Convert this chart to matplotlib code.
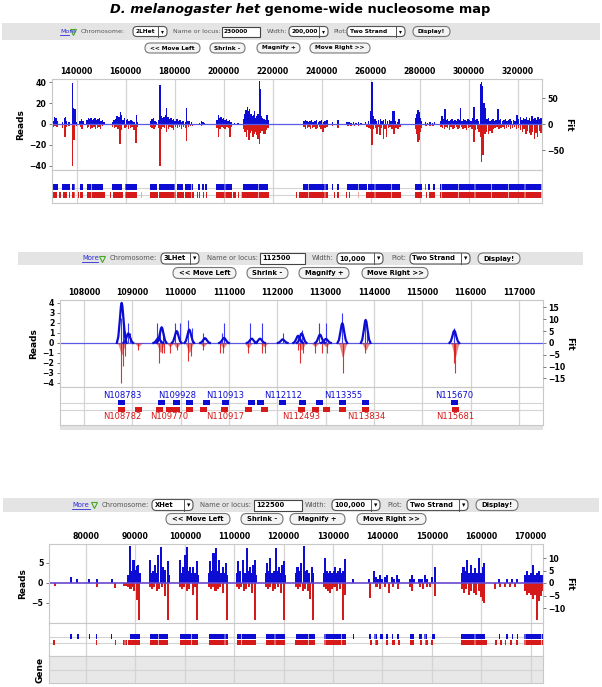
import matplotlib
matplotlib.use('Agg')
import matplotlib.pyplot as plt
from matplotlib.patches import Rectangle, FancyBboxPatch
import numpy as np

W, H = 602, 687
BLUE = '#0c0cd2'
RED = '#d61a1a'
GRID = '#d4d4d4'
SPINE = '#c8c8c8'

plt.rcParams['font.family'] = ['DejaVu Sans']
plt.rcParams['hatch.linewidth'] = 0.45

title_a = 'D. melanogaster het'
title_b = ' genome-wide nucleosome map'

chroms = ['2LHet', '3LHet', 'XHet']
loci = ['230000', '112500', '122500']
widths = ['200,000', '10,000', '100,000']
plot_mode = 'Two Strand'
nav_buttons = ['<< Move Left', 'Shrink -', 'Magnify +', 'Move Right >>']

# ---------------- panel 1 : 2LHet, x in kb ----------------
p1_ticks = [140, 160, 180, 200, 220, 240, 260, 280, 300, 320]
p1_blue_kb = [130.5, 131.0, 131.6, 132.2, 134.2, 135.0, 135.5, 136.0, 137.0, 138.3, 138.8, 139.3, 140.0,
              141.5, 142.0, 142.6, 144.3, 144.8, 145.4, 146.0, 146.5, 147.0, 147.6, 148.2, 148.8, 149.4,
              150.0, 150.6, 151.2, 154.6, 155.3, 156.0, 156.6, 157.3, 157.9, 158.4, 159.0, 159.7, 160.3,
              160.9, 161.5, 162.2, 162.8, 163.4, 164.4, 165.0, 170.3, 170.8, 171.4, 172.0, 172.6, 173.5,
              174.1, 174.6, 175.2, 175.8, 176.3, 176.8, 177.3, 177.9, 178.5, 179.0, 179.6, 180.2, 181.0,
              181.5, 182.2, 182.9, 183.5, 184.4, 185.0, 185.5, 186.2, 187.0, 190.3, 191.0, 191.6, 192.3,
              197.3, 197.9, 198.4, 198.9, 199.4, 200.0, 200.6, 201.2, 201.8, 202.4, 203.0, 204.5, 206.0,
              208.2, 208.7, 209.2, 209.7, 210.2, 210.7, 211.2, 211.7, 212.2, 212.7, 213.2, 213.7, 214.1,
              214.6, 215.0, 215.5, 216.0, 216.6, 217.2, 217.8, 218.3,
              232.8, 233.4, 234.0, 234.6, 235.3, 236.0, 236.6, 237.3, 238.0, 238.7, 239.4, 240.1, 240.8,
              241.5, 242.2, 244.5, 246.8, 250.5, 251.2, 252.0, 253.0, 254.0, 255.0, 256.2, 258.0, 259.2,
              260.2, 260.7, 261.2, 261.8, 262.5, 263.2, 264.0, 264.7, 265.4, 266.2, 267.0, 267.7, 268.4,
              269.2, 269.6, 270.3, 271.0, 271.7, 278.3, 278.8, 279.3, 279.8, 280.3, 280.8, 282.5, 283.3,
              284.3, 285.3, 286.2, 288.6, 289.2, 289.8, 290.4, 290.9, 291.5, 292.1, 292.7, 293.3, 293.9,
              294.5, 295.1, 295.7, 296.3, 296.8, 297.4, 298.0, 298.6, 299.2, 299.8, 300.4, 301.0, 301.6,
              302.3, 302.9, 303.5, 304.1, 304.8, 305.3, 305.8, 306.3, 306.9, 307.5, 308.2, 308.8, 309.4,
              310.0, 310.7, 311.3, 312.0, 312.5, 313.1, 313.8, 314.4, 315.0, 315.7, 316.3, 317.0, 317.6,
              318.3, 318.9, 319.7, 320.3, 321.2, 321.8, 322.4, 323.0, 323.6, 324.2, 324.8, 325.4, 326.0,
              326.6, 327.2, 327.8, 328.4, 329.0, 329.6]
p1_blue_reads = [3, 7, 6, 3, 2, 6, 7, 3, 2, 39, 15, 14, 2,
                 3, 5, 3, 4, 6, 5, 6, 4, 5, 6, 4, 5, 6,
                 3, 4, 2, 2, 4, 5, 8, 7, 11, 9, 4, 6, 4,
                 5, 3, 4, 3, 2, 9, 2, 3, 5, 6, 3, 2, 4,
                 37, 8, 6, 7, 9, 15, 7, 5, 6, 4, 5, 3, 5,
                 3, 4, 2, 3, 2, 15, 3, 3, 2, 1, 3, 2, 1,
                 4, 9, 6, 7, 5, 6, 4, 5, 3, 4, 2, 1, 1,
                 5, 10, 13, 16, 12, 14, 10, 8, 9, 12, 6, 8, 10,
                 41, 33, 8, 6, 5, 4, 9, 4,
                 3, 4, 3, 2, 3, 4, 2, 3, 4, 2, 3, 4, 2,
                 3, 4, 2, 4, 2, 2, 1, 2, 1, 2, 1, 2, 3,
                 12, 40, 8, 5, 3, 4, 5, 3, 4, 5, 3, 4, 3,
                 12, 12, 3, 2, 5, 6, 10, 13, 11, 6, 3, 2, 1,
                 2, 1, 2, 3, 8, 5, 14, 4, 5, 3, 4, 5, 3,
                 4, 3, 5, 4, 15, 3, 5, 4, 3, 5, 4, 3, 6,
                 16, 4, 5, 3, 38, 40, 36, 20, 15, 5, 6, 3, 4,
                 5, 3, 4, 14, 4, 5, 3, 4, 5, 3, 4, 5, 3,
                 4, 3, 9, 5, 7, 4, 6, 5, 7, 4, 6, 3, 8,
                 5, 6, 4, 7, 5, 6]
p1_red_kb = [130.5, 131.2, 132.0, 134.3, 135.3, 136.0, 137.0, 138.4, 139.0, 140.0, 141.6, 142.3, 144.4,
             145.0, 145.7, 146.4, 147.1, 147.8, 148.5, 149.2, 149.9, 150.6, 154.8, 155.5, 156.2, 156.9,
             157.7, 158.3, 159.8, 160.5, 161.2, 162.0, 162.7, 163.5, 164.3, 165.0, 170.2, 170.9, 171.6,
             172.3, 173.4, 174.1, 174.7, 175.3, 176.0, 176.8, 177.5, 178.2, 178.9, 179.6, 180.4, 181.3,
             182.1, 182.9, 183.6, 184.4, 185.0, 185.7, 186.5, 187.3, 191.1, 197.3, 197.9, 198.6, 199.3,
             200.0, 200.7, 201.4, 202.0, 202.6, 203.2, 208.2, 208.8, 209.4, 210.0, 210.5, 210.9, 211.4,
             212.0, 212.5, 213.0, 213.6, 214.1, 214.6, 215.1, 215.7, 216.3, 216.9, 217.5, 218.2,
             232.8, 233.5, 234.2, 234.9, 235.6, 236.3, 237.0, 237.7, 238.4, 239.1, 239.8, 240.7, 241.5,
             242.2, 244.5, 246.8, 250.8, 252.0, 253.5, 255.0, 258.5, 259.4, 260.2, 260.7, 261.3, 262.0,
             262.6, 263.2, 263.9, 264.5, 265.2, 265.9, 266.6, 267.3, 268.0, 268.7, 269.6, 270.4, 271.2,
             272.0, 278.3, 278.8, 279.4, 279.9, 280.4, 280.9, 282.7, 284.3, 285.5, 288.7, 289.4, 290.1,
             290.8, 291.5, 292.2, 292.9, 293.6, 294.3, 295.0, 295.7, 296.4, 297.1, 297.8, 298.5, 299.2,
             299.9, 300.6, 301.4, 302.2, 302.9, 303.6, 304.3, 304.9, 305.4, 306.0, 306.7, 307.4, 308.1,
             308.8, 309.5, 310.2, 310.8, 311.6, 312.4, 313.2, 314.0, 314.8, 315.6, 316.4, 317.2, 318.0,
             318.8, 319.6, 320.4, 321.2, 322.0, 322.7, 323.4, 324.1, 324.8, 325.5, 326.2, 326.9, 327.5,
             328.2, 328.9, 329.6]
p1_red_reads = [-3, -2, -3, -4, -12, -3, -2, -40, -15, -2, -3, -5, -4,
                -3, -5, -4, -3, -5, -4, -3, -5, -2, -3, -4, -3, -5,
                -19, -6, -4, -3, -5, -4, -3, -6, -18, -3, -3, -4, -5,
                -3, -4, -40, -5, -3, -4, -8, -5, -3, -4, -6, -3, -4,
                -3, -5, -3, -4, -16, -3, -2, -2, -2, -4, -12, -5, -3,
                -4, -5, -3, -4, -12, -3, -5, -8, -12, -6, -15, -9, -7,
                -12, -10, -8, -11, -14, -19, -9, -7, -10, -10, -6, -4,
                -3, -5, -4, -3, -5, -4, -3, -5, -4, -3, -5, -8, -4,
                -3, -2, -4, -2, -2, -2, -2, -3, -4, -5, -20, -5, -4,
                -10, -3, -11, -4, -14, -5, -12, -4, -3, -5, -10, -4, -5,
                -3, -5, -10, -17, -15, -8, -4, -2, -2, -2, -3, -4, -5,
                -3, -4, -6, -3, -5, -4, -3, -5, -4, -3, -5, -4, -6,
                -4, -3, -5, -17, -6, -5, -8, -12, -36, -30, -10, -8, -10,
                -7, -9, -5, -4, -3, -5, -4, -3, -5, -4, -3, -5, -4,
                -3, -5, -4, -6, -8, -5, -10, -7, -9, -11, -8, -14, -9,
                -12, -7, -9]
p1_blue_nuc = [(130.1, 132.6), (133.9, 137.4), (138.0, 139.4), (141.4, 142.8), (144.2, 151.0),
               (154.4, 158.5), (159.8, 164.8), (170.0, 172.7), (173.7, 180.2), (180.9, 183.6),
               (184.3, 187.7), (189.7, 190.6), (191.3, 192.2), (192.6, 193.1), (197.0, 203.3),
               (208.0, 218.3), (232.6, 242.8), (244.2, 244.8), (246.3, 247.0), (250.3, 258.5),
               (258.9, 272.1), (278.2, 280.9), (282.2, 282.8), (283.5, 284.2), (285.5, 286.3),
               (288.4, 329.9)]
p1_red_nuc = [(130.1, 132.0), (132.8, 133.5), (134.5, 136.0), (136.8, 137.3), (138.0, 139.4),
              (140.5, 141.0), (141.6, 142.8), (144.2, 151.5), (153.8, 154.2), (154.8, 158.8),
              (159.6, 164.8), (166.3, 166.8), (170.0, 173.2), (173.7, 180.5), (181.2, 183.8),
              (184.3, 188.0), (189.0, 189.4), (190.2, 190.6), (191.5, 192.0), (192.8, 193.1),
              (197.0, 203.5), (204.0, 205.0), (206.0, 206.4), (207.2, 218.5), (229.5, 230.0),
              (231.0, 242.8), (245.0, 245.5), (246.3, 247.0), (249.0, 249.3), (250.0, 250.5),
              (251.2, 251.6), (252.3, 252.6), (253.5, 253.8), (255.0, 255.3), (258.0, 272.5),
              (278.0, 281.0), (282.5, 283.0), (284.0, 286.3), (288.4, 330.0)]

# ---------------- panel 2 : 3LHet, x in bp ----------------
p2_ticks = [108000, 109000, 110000, 111000, 112000, 113000, 114000, 115000, 116000, 117000]
p2_blue_bp = [108760, 108800, 108850, 108900, 108950, 109501, 109570, 109639, 109880, 109984, 110156,
              110225, 110467, 110847, 110895, 111433, 111675, 112110, 112468, 112520, 112861, 113006,
              113344, 113814, 113850, 115650]
p2_blue_reads = [2.5, 3.0, 1.2, 2.0, 1.0, 2.0, 1.5, 1.2, 2.0, 2.0, 2.3,
                 1.5, 1.0, 1.0, 2.0, 2.0, 2.0, 1.0, 1.0, 1.3, 2.0, 2.0,
                 3.0, 2.4, 1.2, 1.5]
p2_blue_fit_bp = [108777, 108914, 109535, 109605, 109916, 110177, 110502, 110896, 111469, 111641,
                  112111, 112430, 112504, 112883, 113007, 113345, 113829, 115664]
p2_blue_fit = [16.9, 4.0, 2.0, 6.6, 5.0, 5.6, 2.0, 2.1, 1.8, 1.8,
               1.5, 3.0, 4.0, 3.5, 1.7, 8.3, 9.7, 5.2]
p2_red_bp = [108763, 108797, 108845, 109121, 109556, 109605, 109653, 109777, 109916, 110156, 110204,
             110453, 110812, 110867, 111398, 111675, 111744, 112434, 112468, 112537, 112779, 112930,
             113020, 113351, 113814, 115650, 115684]
p2_red_reads = [-4.0, -2.3, -1.3, -0.7, -2.0, -1.0, -1.0, -1.0, -0.7, -1.8, -1.3,
                -0.7, -1.0, -1.0, -1.0, -1.0, -1.0, -0.7, -2.0, -1.0, -1.0, -1.0,
                -1.0, -3.0, -1.0, -2.0, -3.0]
p2_red_fit_bp = [108777, 109121, 109580, 109777, 109916, 110177, 110467, 110880, 111399, 111724,
                 112504, 112780, 113007, 113352, 113829, 115678]
p2_red_fit = [-5, -1.5, -4, -1.5, -2, -4, -1.5, -2, -2, -1.5,
              -3, -1.5, -1.5, -6, -3, -6]
p2_blue_nuc = [108777, 109605, 109916, 110177, 110523, 110916, 111469, 111641, 112111, 112525,
               112869, 113345, 113829, 115657]
p2_red_nuc = [108777, 109121, 109556, 109763, 109916, 110177, 110467, 110902, 111399, 111724,
              112504, 112780, 113007, 113352, 113829, 115678]
p2_blue_names = ['N108783', 'N109928', 'N110913', 'N112112', 'N113355', 'N115670']
p2_red_names = ['N108782', 'N109770', 'N110917', 'N112493', 'N113834', 'N115681']

# ---------------- panel 3 : XHet, x in kb ----------------
p3_ticks = [80, 90, 100, 110, 120, 130, 140, 150, 160, 170]
p3_blue_kb = [76.9, 78.2, 80.6, 82.2, 85.2,
              88.6, 88.9, 89.2, 89.6, 89.9, 90.3, 90.6, 90.9,
              92.9, 93.3, 93.6, 94.0, 94.3, 94.6, 95.1, 95.5, 95.8, 96.0, 96.5, 96.8,
              99.0, 99.3, 99.6, 100.0, 100.5, 100.8, 101.0, 101.4, 101.7, 102.1, 102.4, 102.7,
              104.8, 105.1, 105.5, 105.8, 106.3, 106.6, 107.0, 107.4, 107.7, 108.0, 108.3, 108.6,
              110.5, 110.8, 111.2, 111.8, 112.1, 112.5, 112.8, 113.2, 113.5, 113.9, 114.2, 114.4,
              116.4, 116.6, 116.9, 117.2, 117.6, 118.0, 118.5, 118.8, 119.1, 119.4, 119.6, 120.1, 120.3,
              122.5, 122.8, 123.2, 123.6, 124.1, 124.5, 124.8, 125.2, 125.7, 126.0,
              128.1, 128.4, 128.8, 129.1, 129.4, 129.8, 130.1, 130.4, 130.8, 131.1, 131.4, 131.8, 132.1, 132.4,
              134.0, 137.3, 138.2, 138.6, 139.1, 139.5, 140.0, 140.5, 141.0, 141.9, 142.4, 142.9, 143.4,
              145.6, 145.9, 146.3, 147.5, 148.0, 148.6, 149.0, 150.0, 150.6,
              156.1, 156.4, 156.8, 157.1, 157.5, 157.9, 158.3, 158.7, 159.1, 159.6, 160.0, 160.3, 160.6,
              163.5, 165.2, 166.3, 167.3,
              168.8, 169.2, 169.6, 170.0, 170.5, 170.9, 171.3, 171.6, 172.0, 172.3]
p3_blue_reads = [1.5, 1, 1, 1, 1,
                 2, 9.2, 3, 5.8, 3.3, 4.2, 4.5, 2.5,
                 5.8, 2.5, 3, 4.6, 2.5, 7, 9, 4, 2.5, 3.3, 5.4, 2,
                 5.8, 2.5, 4, 7, 9, 3, 4, 2.5, 4, 2.5, 5.4, 2,
                 2.5, 5.4, 3, 7.5, 8.8, 3, 5.8, 2.5, 4, 2.5, 5, 2,
                 2.5, 5.4, 3, 5.8, 2.5, 8.8, 3, 4, 2.5, 4.6, 5.8, 2,
                 2.5, 5, 3, 6.2, 2.5, 3, 8.8, 3, 4, 2.5, 4.6, 5.4, 2,
                 2.5, 4, 3, 5, 9.2, 3, 3.3, 2.5, 4, 2.5,
                 2.5, 6.2, 3, 2.5, 3, 2.5, 3, 4, 2.5, 3, 3.7, 2.5, 3, 6,
                 1, 1, 3, 1.5, 1, 2, 1, 1.5, 2, 1.5, 1, 2, 1,
                 1, 2, 1, 1, 1, 2, 1, 1.5, 4,
                 2.5, 4, 3, 5.8, 2.5, 4.6, 2.5, 3.7, 2.5, 6.2, 2.5, 4, 5,
                 1, 1, 1, 1,
                 2, 3, 2, 2.5, 4.6, 2, 2.5, 3, 2, 2]
p3_red_kb = [73.7, 82.2, 85.9, 87.7, 88.1,
             88.6, 89.0, 89.4, 89.8, 90.3, 90.8,
             92.9, 93.3, 93.8, 94.3, 94.8, 95.3, 96.0, 96.65,
             99.0, 99.4, 99.9, 100.4, 100.9, 101.7, 102.1, 102.5,
             104.8, 105.2, 105.7, 106.2, 106.7, 107.2, 107.8, 108.45,
             110.5, 110.9, 111.4, 111.9, 112.4, 112.9, 113.6, 114.25,
             116.4, 116.8, 117.3, 117.8, 118.3, 118.8, 119.4, 120.1,
             122.5, 122.9, 123.4, 123.9, 124.4, 125.0, 125.4, 126.0,
             128.2, 128.6, 129.0, 129.4, 129.8, 130.3, 130.8, 131.4, 132.1, 132.4,
             137.5, 138.8, 139.5, 140.6, 141.4, 142.1, 143.1,
             145.6, 145.9, 147.6, 148.3, 149.0, 149.6, 150.6,
             156.1, 156.5, 157.0, 157.5, 158.0, 158.5, 159.0, 159.5, 160.0, 160.3, 160.6,
             162.8, 163.8, 164.8, 165.8, 166.8,
             168.8, 169.2, 169.6, 170.0, 170.4, 170.8, 171.2, 171.6, 172.0, 172.3]
p3_red_reads = [-0.8, -1, -1.3, -0.7, -0.7,
                -1, -1.5, -1, -2, -4.2, -9.2,
                -1, -1.5, -1, -2, -1.5, -1, -3.3, -9.2,
                -1, -1.5, -1, -2, -1.5, -3, -1, -9.2,
                -1, -1.5, -1, -2, -1.5, -1, -2.5, -9.2,
                -1, -1.5, -1, -2, -1.5, -1, -2.5, -9.2,
                -1, -1.5, -1, -2, -1.5, -1, -2.5, -9.2,
                -1, -1.5, -1, -2, -1.5, -2, -4, -9.2,
                -1, -1.5, -2, -2.5, -1.5, -1, -2, -1.5, -9.2, -3,
                -3.75, -1, -1.5, -1, -2.5, -1, -1.5,
                -1, -2, -1, -1.5, -1, -1, -3.3,
                -1.5, -2.5, -1.5, -3, -2, -2.5, -3, -2, -3.5, -4.6, -5,
                -1.5, -1, -1, -1, -1,
                -2, -3, -2.5, -3, -4, -3, -9.2, -4.5, -3.3, -2]
p3_blue_nuc = [(76.8, 77.1), (78.2, 78.5), (80.5, 80.8), (82.0, 82.3), (85.0, 85.3), (88.8, 91.0),
               (92.9, 96.6), (99.0, 102.7), (104.8, 108.7), (110.5, 114.4), (116.5, 120.3),
               (122.5, 126.3), (128.1, 132.6), (134.1, 134.3), (137.2, 137.6), (138.2, 138.8),
               (139.5, 140.2), (140.7, 141.2), (141.9, 142.2), (142.9, 143.4), (145.6, 146.3),
               (147.3, 148.0), (148.5, 149.0), (150.0, 150.6), (156.0, 160.8), (163.5, 163.8),
               (165.1, 165.5), (166.2, 166.5), (167.2, 167.5), (168.7, 172.4)]
p3_red_nuc = [(73.4, 73.8), (82.0, 82.3), (85.8, 86.1), (87.5, 88.2), (88.5, 91.0), (92.9, 96.6),
              (99.0, 102.7), (104.8, 108.7), (110.5, 114.5), (116.4, 120.3), (122.3, 126.3),
              (128.1, 132.6), (137.5, 137.9), (138.5, 139.1), (140.7, 141.2), (141.9, 142.5),
              (143.2, 143.5), (145.6, 146.3), (147.6, 148.1), (148.6, 149.3), (149.8, 150.3),
              (156.0, 161.1), (162.8, 163.1), (163.8, 164.2), (164.8, 165.1), (165.9, 166.3),
              (167.0, 167.5), (168.7, 172.4)]

# fit hump outline used as a marker shape in panel 2
HUMP_DX = np.array([-100, -70, -40, -15, 0, 15, 40, 70, 100])
HUMP_Y = np.array([0, .15, .55, .92, 1, .92, .55, .15, 0])

fig = plt.figure(figsize=(W / 100, H / 100), dpi=100)
bg = fig.add_axes([0, 0, 1, 1])
bg.set_xlim(0, W)
bg.set_ylim(H, 0)
bg.axis('off')


def px_axes(x0, y0, x1, y1):
    return fig.add_axes([x0 / W, 1 - y1 / H, (x1 - x0) / W, (y1 - y0) / H])


def rbox(x0, x1, yc, h, fc, ec, r):
    bg.add_patch(FancyBboxPatch((x0, yc - h / 2), x1 - x0, h,
                                boxstyle='round,pad=0,rounding_size=%g' % r,
                                fc=fc, ec=ec, lw=0.8))


def controls(bar, items, btn_y, btns, fs, fb, bh):
    # fs: plain label size, fb: bold widget text size
    bg.add_patch(Rectangle((bar[0], bar[1]), bar[2] - bar[0], bar[3] - bar[1], fc='#e4e4e4', ec='none'))
    yc = (bar[1] + bar[3]) / 2
    for kind, x0, x1, txt in items:
        if kind == 'link':
            bg.text(x0, yc, txt, fontsize=fs, color='#2a2ad8', va='center', ha='left')
            bg.plot([x0, x1], [yc + fs * 0.75, yc + fs * 0.75], color='#2a2ad8', lw=0.6)
            bg.plot(x1 + 4, yc, marker='v', ms=fs * 0.85, mfc='none', mec='#44aa22', mew=0.8)
        elif kind == 'label':
            bg.text(x0, yc, txt, fontsize=fs, color='#555555', va='center', ha='left')
        elif kind == 'select':
            rbox(x0, x1, yc, bh, 'white', '#555555', bh / 2.5)
            bg.plot([x1 - 9, x1 - 9], [yc - bh / 2, yc + bh / 2], color='#555555', lw=0.7)
            bg.text(x0 + 2.5, yc, txt, fontsize=fb, weight='bold', va='center', ha='left')
            bg.text(x1 - 4.5, yc, '\u25be', fontsize=fb, va='center', ha='center')
        elif kind == 'input':
            bg.add_patch(Rectangle((x0, yc - bh / 2), x1 - x0, bh, fc='white', ec='#444444', lw=0.8))
            bg.text(x0 + 2, yc, txt, fontsize=fb, weight='bold', va='center', ha='left')
        elif kind == 'button':
            rbox(x0, x1, yc, bh, '#f4f4f4', '#777777', bh / 2)
            bg.text((x0 + x1) / 2, yc, txt, fontsize=fb, weight='bold', va='center', ha='center')
    for (x0, x1), txt in zip(btns, nav_buttons):
        rbox(x0, x1, btn_y, bh, '#f4f4f4', '#777777', bh / 2)
        bg.text((x0 + x1) / 2, btn_y, txt, fontsize=fb, weight='bold', va='center', ha='center')


def style_plot(ax, xlim, ticks, labels):
    ax.set_xlim(*xlim)
    ax.set_xticks(ticks)
    ax.set_xticklabels(labels, fontsize=5.6, weight='bold')
    ax.xaxis.tick_top()
    ax.tick_params(axis='x', length=0, pad=2)
    ax.tick_params(axis='y', length=2.5, width=0.6, color='#666666', pad=1.5, labelsize=5.6)
    for lab in ax.get_yticklabels():
        lab.set_weight('bold')
    ax.grid(axis='x', color=GRID, lw=0.9)
    ax.set_axisbelow(True)
    for s in ax.spines.values():
        s.set_color(SPINE)
        s.set_linewidth(0.8)


def fit_axis(ax, ylim, ticks):
    ax2 = ax.twinx()
    ax2.set_ylim(*ylim)
    ax2.set_yticks(ticks)
    ax2.tick_params(axis='y', length=2.5, width=0.6, color='#666666', pad=1.5, labelsize=5.6)
    for lab in ax2.get_yticklabels():
        lab.set_weight('bold')
    for s in ax2.spines.values():
        s.set_visible(False)
    ax2.set_ylabel('Fit', rotation=270, fontsize=6.5, weight='bold', labelpad=6)
    return ax2


def track(x0, x1, y0, y1, xlim, ticks, rows):
    t = px_axes(x0, y0, x1, y1)
    t.set_xlim(*xlim)
    t.set_ylim(y1, y0)
    t.set_xticks(ticks)
    t.tick_params(length=0, labelbottom=False, labelleft=False)
    t.set_yticks([])
    t.grid(axis='x', color=GRID, lw=0.9)
    t.set_axisbelow(True)
    for s in t.spines.values():
        s.set_color(SPINE)
        s.set_linewidth(0.8)
    for yr in rows:
        t.axhline(yr, color=GRID, lw=0.8, zorder=0)
    return t


def nuc_blocks(t, spans, yc, h, color):
    t.broken_barh([(a, b - a) for a, b in spans], (yc - h / 2, h),
                  facecolors=color, edgecolors='white', hatch='|', lw=0)


# ---------------- title ----------------
ta = bg.text(0, 10, title_a, fontsize=9.4, weight='bold', style='italic', va='center', ha='left')
tb = bg.text(0, 10, title_b, fontsize=9.4, weight='bold', va='center', ha='left')
fig.canvas.draw()
r = fig.canvas.get_renderer()
wa = ta.get_window_extent(r).width
wb = tb.get_window_extent(r).width
ta.set_x(300 - (wa + wb) / 2)
tb.set_x(300 - (wa + wb) / 2 + wa)

# ---------------- panel 1 ----------------
controls((2, 23, 600, 40),
         [('link', 60, 69, 'More'), ('label', 81, 131, 'Chromosome:'), ('select', 133, 167, chroms[0]),
          ('label', 173, 220, 'Name or locus:'), ('input', 222, 260, loci[0]), ('label', 267, 287, 'Width:'),
          ('select', 289, 328, widths[0]), ('label', 333, 345, 'Plot:'), ('select', 347, 405, plot_mode),
          ('button', 413, 450, 'Display!')],
         48, [(145, 200), (210, 245), (257, 300), (310, 370)], 4.5, 4.2, 10)

p1_xlim = (130, 330)
ax1 = px_axes(52, 79, 542, 170)
ax1.bar(p1_blue_kb, p1_blue_reads, width=0.6, color=BLUE, lw=0)
ax1.bar(p1_red_kb, p1_red_reads, width=0.6, color=RED, lw=0)
ax1.axhline(0, color='#5a5ae6', lw=0.9)
ax1.set_ylim(-44, 43)
ax1.set_yticks([-40, -20, 0, 20, 40])
style_plot(ax1, p1_xlim, p1_ticks, [str(t * 1000) for t in p1_ticks])
ax1.set_ylabel('Reads', fontsize=6.5, weight='bold', labelpad=3)
fit_axis(ax1, (-88, 86.5), [-50, 0, 50])

t1 = track(52, 542, 170, 203, p1_xlim, p1_ticks, [187.5, 195])
nuc_blocks(t1, p1_blue_nuc, 187, 6, BLUE)
nuc_blocks(t1, p1_red_nuc, 194.5, 6, RED)

# ---------------- panel 2 ----------------
controls((18, 252, 583, 265),
         [('link', 82, 98, 'More'), ('label', 110, 157, 'Chromosome:'), ('select', 161, 199, chroms[1]),
          ('label', 207, 258, 'Name or locus:'), ('input', 260, 305, loci[1]), ('label', 312, 333, 'Width:'),
          ('select', 337, 383, widths[1]), ('label', 391, 407, 'Plot:'), ('select', 410, 470, plot_mode),
          ('button', 478, 520, 'Display!')],
         273, [(173, 236), (247, 288), (299, 349), (362, 428)], 4.9, 4.9, 11)

p2_xlim = (107500, 117500)
ax2 = px_axes(60, 300, 543, 387)
ax2.vlines(p2_blue_bp, 0, p2_blue_reads, color='#3a3af0', lw=0.8)
ax2.vlines(p2_red_bp, 0, p2_red_reads, color='#e03030', lw=0.8)
ax2.axhline(0, color='#5a5ae6', lw=0.9)
ax2.set_ylim(-4.4, 4.3)
ax2.set_yticks([-4, -3, -2, -1, 0, 1, 2, 3, 4])
style_plot(ax2, p2_xlim, p2_ticks, [str(t) for t in p2_ticks])
ax2.set_ylabel('Reads', fontsize=6.5, weight='bold', labelpad=3)
f2 = fit_axis(ax2, (-18.6, 18.1), [-15, -10, -5, 0, 5, 10, 15])
for c, h in zip(p2_blue_fit_bp, p2_blue_fit):
    f2.plot(c + HUMP_DX, h * HUMP_Y, color=BLUE, lw=1.6, solid_joinstyle='round')
for c, h in zip(p2_red_fit_bp, p2_red_fit):
    f2.fill_between(c + HUMP_DX, 0, h * HUMP_Y, color=RED, alpha=0.55, lw=0)

t2 = track(60, 543, 387, 425, p2_xlim, p2_ticks, [402.5, 409.5])
for c in p2_blue_nuc:
    t2.add_patch(Rectangle((c - 72, 399.5), 145, 5.5, fc=BLUE, ec='none'))
for c in p2_red_nuc:
    t2.add_patch(Rectangle((c - 72, 406.5), 145, 5.5, fc=RED, ec='none'))
for nm in p2_blue_names:
    t2.text(int(nm[1:]), 395.5, nm, color=BLUE, fontsize=6, ha='center', va='center')
for nm in p2_red_names:
    t2.text(int(nm[1:]), 416.5, nm, color=RED, fontsize=6, ha='center', va='center')
bg.add_patch(Rectangle((60, 425), 483, 5, fc='#e2e2e2', ec='none'))

# ---------------- panel 3 ----------------
controls((3, 498, 599, 512),
         [('link', 72, 90, 'More'), ('label', 102, 147, 'Chromosome:'), ('select', 152, 193, chroms[2]),
          ('label', 200, 252, 'Name or locus:'), ('input', 254, 302, loci[2]), ('label', 305, 328, 'Width:'),
          ('select', 332, 380, widths[2]), ('label', 387, 404, 'Plot:'), ('select', 407, 468, plot_mode),
          ('button', 476, 518, 'Display!')],
         519, [(166, 230), (241, 283), (290, 345), (357, 426)], 4.9, 4.9, 11)

p3_xlim = (72.5, 172.5)
ax3 = px_axes(49, 544, 543, 623)
ax3.bar(p3_blue_kb, p3_blue_reads, width=0.42, color=BLUE, lw=0)
ax3.bar(p3_red_kb, p3_red_reads, width=0.42, color=RED, lw=0)
ax3.axhline(0, color='#6848d0', lw=1.2)
ax3.set_ylim(-10, 9.75)
ax3.set_yticks([-5, 0, 5])
style_plot(ax3, p3_xlim, p3_ticks, [str(t * 1000) for t in p3_ticks])
ax3.set_ylabel('Reads', fontsize=6.5, weight='bold', labelpad=3)
fit_axis(ax3, (-16, 15.6), [-10, -5, 0, 5, 10])

t3 = track(49, 543, 623, 656, p3_xlim, p3_ticks, [637, 642.5])
nuc_blocks(t3, p3_blue_nuc, 636, 5, BLUE)
nuc_blocks(t3, p3_red_nuc, 642.5, 5, RED)

g3 = track(49, 543, 656, 683, p3_xlim, p3_ticks, [670])
g3.set_facecolor('#e8e8e8')
g3.set_ylabel('Gene', fontsize=6.5, weight='bold', labelpad=3)

fig.savefig('out.png', dpi=100)
